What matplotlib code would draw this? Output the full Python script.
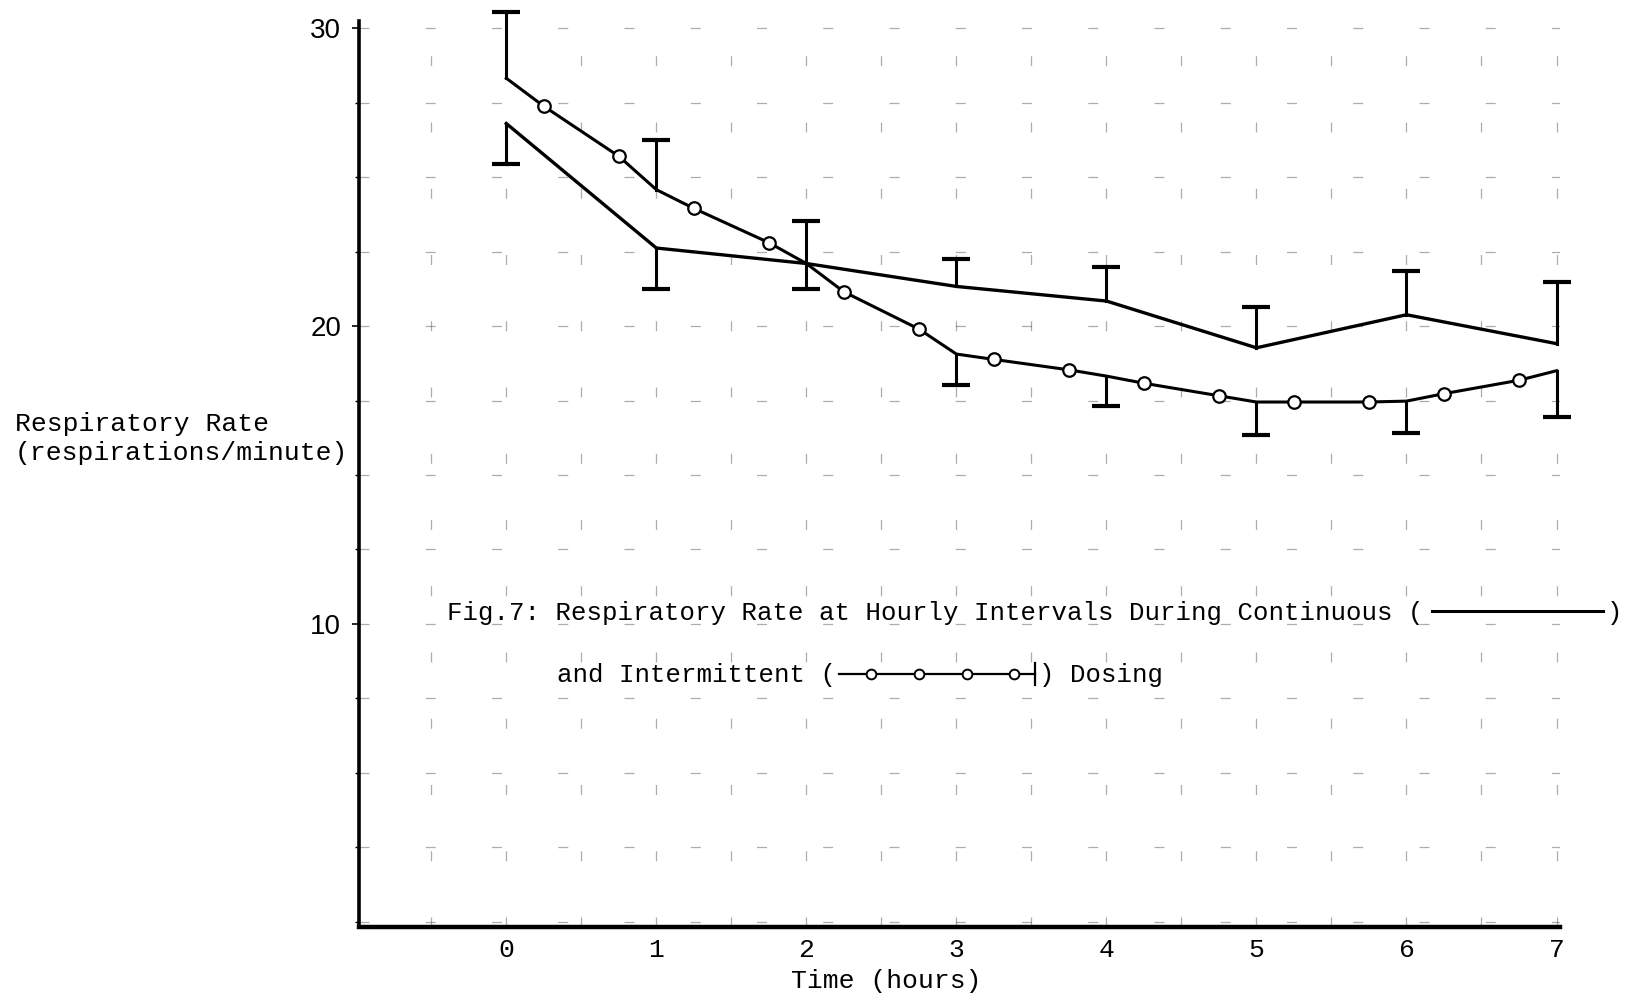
import matplotlib
matplotlib.use("Agg")
import matplotlib.pyplot as plt
from matplotlib.ticker import MultipleLocator, FixedLocator

# continuous dosing, hourly means (one-sided error bars)
cont_hours = [0, 1, 2, 3, 4, 5, 6, 7]
cont_rate = [26.8, 22.62, 22.1, 21.33, 20.84, 19.27, 20.38, 19.41]
cont_err_lo = [1.35, 1.36, 0.84, 0, 0, 0, 0, 0]
cont_err_hi = [0, 0, 0, 0.91, 1.15, 1.36, 1.47, 2.06]

# intermittent dosing, hourly means with error bars
int_hours = [0, 1, 2, 3, 4, 5, 6, 7]
int_rate = [28.32, 24.58, 22.1, 19.06, 18.32, 17.45, 17.48, 18.5]
int_err_lo = [0, 0, 0, 1.05, 1.01, 1.12, 1.08, 1.54]
int_err_hi = [2.24, 1.68, 1.43, 0, 0, 0, 0, 0]

# intermittent dosing, in-between readings (open circles)
mid_times = [0.25, 0.75, 1.25, 1.75, 2.25, 2.75, 3.25, 3.75,
             4.25, 4.75, 5.25, 5.75, 6.25, 6.75]
mid_rate = [27.38, 25.7, 23.95, 22.8, 21.15, 19.9, 18.88, 18.53,
            18.08, 17.66, 17.45, 17.45, 17.73, 18.18]

x_ticks = [0, 1, 2, 3, 4, 5, 6, 7]
y_ticks = [10, 20, 30]

caption1 = "Fig.7: Respiratory Rate at Hourly Intervals During Continuous ("
caption2 = "and Intermittent ("

mono = "Liberation Mono"


def one_sided_bars(ax, xs, ys, lo, hi):
    # only the side that has a length gets a stem and a cap
    for x, y, a, b in zip(xs, ys, lo, hi):
        for end in (y - a, y + b):
            if end != y:
                ax.plot([x, x], [y, end], color="black", lw=2.2, zorder=3,
                        clip_on=False)
                ax.plot([x], [end], marker="_", ms=20, mew=3, color="black",
                        zorder=3, clip_on=False)


fig = plt.figure(figsize=(16.33, 10.02), dpi=100)
ax = fig.add_axes([0.220, 0.075, 0.735, 0.904])

ax.set_xlim(-0.98, 7.02)
ax.set_ylim(-0.17, 30.24)

# faint, broken graph-paper grid
ax.xaxis.set_minor_locator(MultipleLocator(0.5))
ax.yaxis.set_minor_locator(MultipleLocator(2.5))
ax.grid(True, which="both", color="0.2", lw=0.9, dashes=(8, 45), alpha=0.4)
ax.set_axisbelow(True)

# continuous line
ax.plot(cont_hours, cont_rate, color="black", lw=2.4, zorder=3)
one_sided_bars(ax, cont_hours, cont_rate, cont_err_lo, cont_err_hi)

# intermittent line with circles
all_t = sorted(int_hours + mid_times)
lookup = dict(zip(int_hours, int_rate))
lookup.update(dict(zip(mid_times, mid_rate)))
ax.plot(all_t, [lookup[t] for t in all_t], color="black", lw=2.2, zorder=3)
ax.plot(mid_times, mid_rate, "o", ms=9, mfc="white", mec="black", mew=1.6, zorder=4)
one_sided_bars(ax, int_hours, int_rate, int_err_lo, int_err_hi)

# axes styling
for s in ["top", "right"]:
    ax.spines[s].set_visible(False)
ax.spines["left"].set_linewidth(2.6)
ax.spines["bottom"].set_linewidth(3.2)
ax.xaxis.set_major_locator(FixedLocator(x_ticks))
ax.yaxis.set_major_locator(FixedLocator(y_ticks))
ax.set_xticklabels([str(v) for v in x_ticks], fontfamily=mono, fontsize=19)
ax.set_yticklabels([str(v) for v in y_ticks], fontfamily="Liberation Sans", fontsize=20)
ax.tick_params(axis="x", which="both", length=0, pad=8)
ax.tick_params(axis="y", which="major", length=5, width=1.2, pad=8)
ax.tick_params(axis="y", which="minor", length=3, width=1)

ax.set_xlabel("Time (hours)", fontfamily=mono, fontsize=19)
ax.xaxis.set_label_coords(0.439, -0.046)
fig.text(0.009, 0.5625, "Respiratory Rate\n(respirations/minute)",
         fontfamily=mono, fontsize=19, va="center", ha="left", linespacing=1.3)

# caption with inline legend samples
t1 = ax.text(-0.395, 10.14, caption1, fontfamily=mono, fontsize=18.5,
             va="baseline", ha="left")
t2 = ax.text(0.34, 8.04, caption2, fontfamily=mono, fontsize=18.5,
             va="baseline", ha="left")
fig.canvas.draw()
r = fig.canvas.get_renderer()
inv = ax.transData.inverted()
px = 1.0 / 144.3  # data units per displayed pixel (x)

e1 = inv.transform((t1.get_window_extent(r).x1, 0))[0]
s1 = e1 + 8 * px
ax.plot([s1, s1 + 165 * px], [10.42, 10.42], color="black", lw=2.2, clip_on=False)
ax.text(s1 + 168 * px, 10.14, ")", fontfamily=mono, fontsize=18.5,
        va="baseline", ha="left")

e2 = inv.transform((t2.get_window_extent(r).x1, 0))[0]
s2 = e2 + 3 * px
ax.plot([s2, s2 + 188 * px], [8.32, 8.32], color="black", lw=1.6, clip_on=False)
ax.plot([s2 + d * px for d in (30, 77, 123, 168)], [8.32] * 4, "o", ms=7,
        mfc="white", mec="black", mew=1.4, clip_on=False)
ax.plot([s2 + 188 * px] * 2, [7.95, 8.7], color="black", lw=1.6, clip_on=False)
ax.text(s2 + 192 * px, 8.04, ") Dosing", fontfamily=mono, fontsize=18.5,
        va="baseline", ha="left")

fig.savefig("out.png", dpi=100)
